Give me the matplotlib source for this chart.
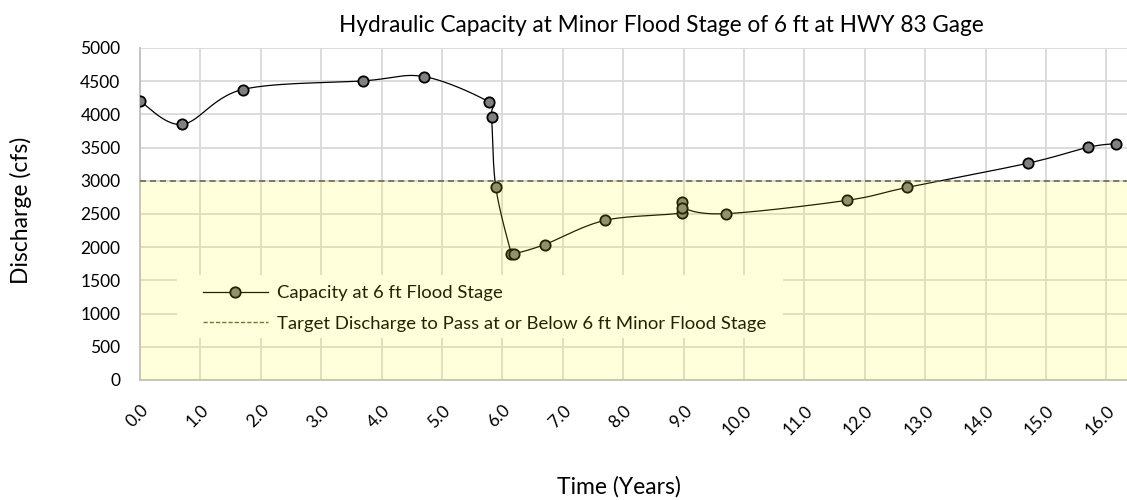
import numpy as np
import matplotlib
matplotlib.use('Agg')
from matplotlib import pyplot as plt
from matplotlib.lines import Line2D
from matplotlib.patches import Rectangle

plt.rcParams['font.family'] = ['Lato', 'DejaVu Sans']

# capacity at 6 ft stage over time
time = [0.0, 0.7, 1.7, 3.7, 4.7, 5.77, 5.82, 5.89, 6.15, 6.2, 6.7, 7.7,
        8.97, 8.97, 8.97, 9.7, 11.7, 12.7, 14.7, 15.7, 16.15]
capacity = [4200, 3850, 4375, 4505, 4570, 4190, 3965, 2905, 1900, 1900, 2040, 2405,
            2520, 2680, 2590, 2505, 2705, 2900, 3265, 3505, 3560]
target = 3000

xticks = np.arange(0, 17, 1.0)
yticks = np.arange(0, 5001, 500)

fig = plt.figure(figsize=(11.27, 5), dpi=100)
ax = fig.add_axes([0.1242, 0.24, 0.8758, 0.664])
ax.set_xlim(0, 16.34)
ax.set_ylim(0, 5000)


def smooth(xs, ys, sx, sy, n=30):
    # Catmull-Rom through the points, done in screen-ish units so the curve looks right
    p = np.column_stack([np.array(xs) * sx, np.array(ys) * sy])
    p = np.vstack([p[0], p, p[-1]])
    out = []
    t = np.linspace(0, 1, n)[:, None]
    for i in range(1, len(p) - 2):
        p0, p1, p2, p3 = p[i - 1], p[i], p[i + 1], p[i + 2]
        seg = 0.5 * ((2 * p1) + (-p0 + p2) * t + (2 * p0 - 5 * p1 + 4 * p2 - p3) * t ** 2
                     + (-p0 + 3 * p1 - 3 * p2 + p3) * t ** 3)
        out.append(seg)
    out = np.vstack(out)
    return out[:, 0] / sx, out[:, 1] / sy


sx, sy = 60.4, 0.0664
cx, cy = smooth(time, capacity, sx, sy)
ax.plot(cx, cy, color='black', lw=0.9, zorder=3)
ax.scatter(time, capacity, s=55, facecolor='#808080', edgecolor='black', lw=1.3, zorder=4)

ax.axhline(target, color='#5f5f3c', lw=1.1, ls=(0, (4, 2.5)), zorder=11)
# light yellow wash over everything below the target discharge
ax.axhspan(0, target, color='#ffff00', alpha=0.14, lw=0, zorder=10)

ax.set_xticks(xticks)
ax.set_xticklabels([f'{v:.1f}' for v in xticks], rotation=45, ha='right',
                   rotation_mode='anchor', fontsize=12.5)
ax.set_yticks(yticks)
ax.set_yticklabels([str(int(v)) for v in yticks], fontsize=12.5)
ax.tick_params(length=0)
ax.tick_params(axis='y', pad=14)
ax.tick_params(axis='x', pad=16)
ax.grid(True, color='#d9d9d9', lw=1.3)
ax.set_axisbelow(True)
for s in ['top', 'right']:
    ax.spines[s].set_visible(False)
for s in ['left', 'bottom']:
    ax.spines[s].set_color('#bfbfbf')
    ax.spines[s].set_linewidth(1.3)

# legend box (white, sits under the yellow wash)
ax.add_patch(Rectangle((0.0375, 0.1265), 0.614, 0.19, transform=ax.transAxes,
                       facecolor='white', edgecolor='none', zorder=4.5))
handles = [
    Line2D([], [], color='black', lw=0.9, marker='o', markersize=7.5,
           markerfacecolor='#808080', markeredgecolor='black', markeredgewidth=1.3),
    Line2D([], [], color='#5f5f3c', lw=1.0, ls=(0, (3, 1.5))),
]
leg = ax.legend(handles, ['Capacity at 6 ft Flood Stage',
                          'Target Discharge to Pass at or Below 6 ft Minor Flood Stage'],
                loc='upper left', bbox_to_anchor=(0.0638, 0.285), fontsize=13.3,
                frameon=False, handlelength=3.5, handletextpad=0.5, labelspacing=0.78,
                borderpad=0, borderaxespad=0)
leg.set_zorder(5)

fig.text(0.587, 0.95, 'Hydraulic Capacity at Minor Flood Stage of 6 ft at HWY 83 Gage',
         ha='center', va='center', fontsize=16.3)
fig.text(0.019, 0.58, 'Discharge (cfs)', rotation=90, ha='center', va='center', fontsize=16.5)
fig.text(0.549, 0.026, 'Time (Years)', ha='center', va='center', fontsize=16.5)

fig.savefig('out.png', dpi=100)
